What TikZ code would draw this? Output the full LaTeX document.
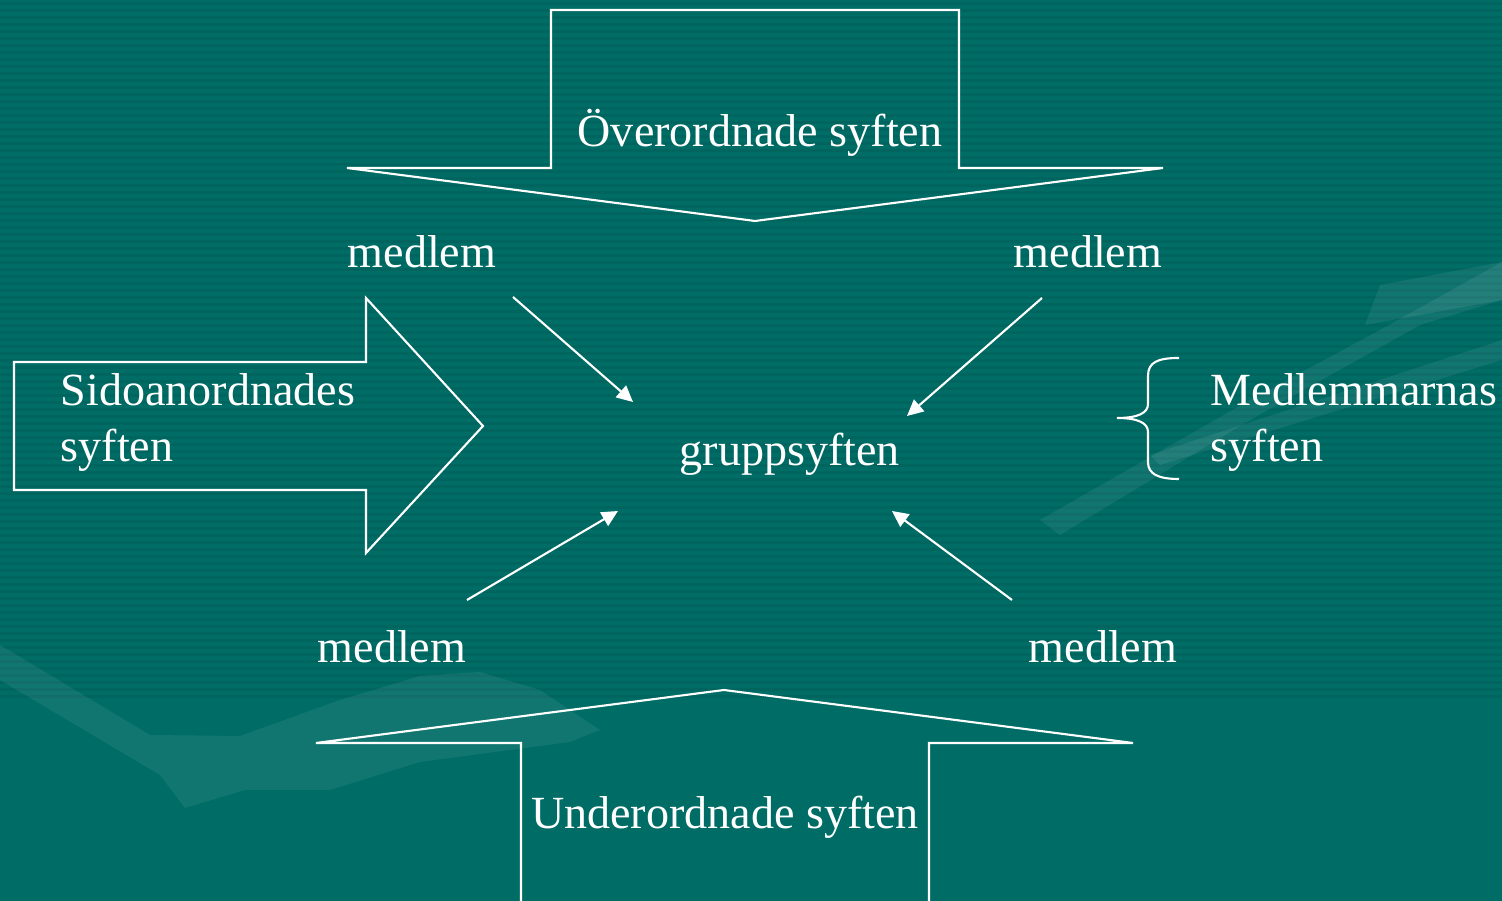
\documentclass[tikz,border=0pt]{standalone}
\usepackage{fontspec}
\setmainfont{Liberation Serif}
\usetikzlibrary{arrows.meta}
\definecolor{bg}{RGB}{0,108,102}
\definecolor{stripe}{RGB}{0,96,91}
\begin{document}
\begin{tikzpicture}[x=0.01cm,y=-0.01cm,
  lbl/.style={text=white,font=\fontsize{13.1}{16.2}\selectfont,inner sep=0pt},
  outline/.style={draw=white,line width=0.6pt,line join=miter},
  link/.style={draw=white,line width=0.6pt,-{Triangle[length=4.6pt,width=4.4pt]}},
  deco/.style={fill=white,fill opacity=0.07}]
\fill[bg] (0,0) rectangle (1502,901);
\useasboundingbox (0,0) rectangle (1502,901);
% faint stripes
\foreach \yy in {2,9,...,700}{\fill[stripe,opacity=0.6] (0,\yy) rectangle (1502,\yy+3);}
% faint background shapes
\fill[deco] (0,645) -- (150,735) -- (240,736) -- (340,700) -- (420,676) -- (480,672) -- (540,690) -- (600,730) -- (570,742) -- (420,762) -- (330,790) -- (245,790) -- (185,808) -- (160,775) -- (0,680) -- cycle;
\fill[deco] (1040,520) -- (1250,400) -- (1380,330) -- (1502,262) -- (1502,300) -- (1420,325) -- (1250,420) -- (1060,535) -- cycle;
\fill[deco] (1150,455) -- (1502,340) -- (1502,360) -- (1160,465) -- cycle;
\fill[deco] (1380,285) -- (1502,262) -- (1502,300) -- (1365,325) -- cycle;
% top arrow
\draw[outline] (551,10) -- (959,10) -- (959,168) -- (1163,168) -- (755,221) -- (347,168) -- (551,168) -- cycle;
\node[lbl,anchor=base] (over) at (760,147) {Överordnade syften};
% bottom arrow
\draw[outline] (521,902) -- (521,743) -- (316,743) -- (724,690) -- (1133,743) -- (929,743) -- (929,902);
\node[lbl,anchor=base] (under) at (725,829) {Underordnade syften};
% left arrow
\draw[outline] (14,362) -- (366,362) -- (366,298) -- (483,426) -- (366,553) -- (366,490) -- (14,490) -- cycle;
\node[lbl,anchor=base west,align=left] (sido) at (60,462) {Sidoanordnades\\syften};
% brace
\draw[white,line width=0.6pt] (1179,358) .. controls (1158,358) and (1148,362) .. (1148,376) -- (1148,404) .. controls (1148,413) and (1138,418) .. (1117,418) .. controls (1138,418) and (1148,423) .. (1148,432) -- (1148,462) .. controls (1148,474) and (1158,479) .. (1179,479);
\node[lbl,anchor=base west,align=left] (medl) at (1210,462) {Medlemmarnas\\syften};
% members and centre
\node[lbl,anchor=base west] (m1) at (347,268) {medlem};
\node[lbl,anchor=base west] (m2) at (1013,268) {medlem};
\node[lbl,anchor=base west] (m3) at (317,663) {medlem};
\node[lbl,anchor=base west] (m4) at (1028,663) {medlem};
\node[lbl,anchor=base west] (g) at (679,466) {gruppsyften};
% connectors
\coordinate (s1) at (513,297); \coordinate (t1) at (633,402);
\coordinate (s2) at (1042,298); \coordinate (t2) at (907,416);
\coordinate (s3) at (467,600); \coordinate (t3) at (618,511);
\coordinate (s4) at (1012,600); \coordinate (t4) at (892,511);
\draw[link] (s1) -- (t1);
\draw[link] (s2) -- (t2);
\draw[link] (s3) -- (t3);
\draw[link] (s4) -- (t4);
\end{tikzpicture}
\end{document}
